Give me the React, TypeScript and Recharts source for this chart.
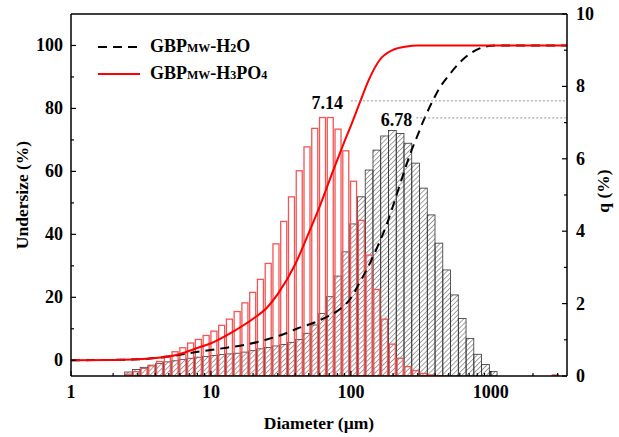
import React from "react";
import { ComposedChart, Bar, Line, XAxis, YAxis, ReferenceLine, Legend } from "recharts";

const FONT = '"Liberation Serif", "Times New Roman", serif';

// size classes (bin centres, µm) and frequency q (%) for both samples
const binDiameters = [
  2.581, 2.932, 3.331, 3.785, 4.3, 4.885, 5.55, 6.306, 7.165, 8.141,
  9.252, 10.51, 11.94, 13.57, 15.41, 17.51, 19.9, 22.61, 25.69, 29.19,
  33.16, 37.67, 42.8, 48.63, 55.25, 62.78, 71.31, 81.03, 92.07, 104.6,
  118.9, 135.0, 153.4, 174.3, 198.1, 225.0, 255.7, 290.5, 330.1, 375.0,
  426.1, 484.1, 550.0, 624.9, 710.0, 806.7, 916.6, 1041, 2891,
];
const qH2O = [
  0.11, 0.18, 0.24, 0.3, 0.35, 0.39, 0.42, 0.46, 0.49, 0.52,
  0.54, 0.57, 0.59, 0.61, 0.63, 0.66, 0.7, 0.75, 0.79, 0.83,
  0.87, 0.93, 1.01, 1.18, 1.41, 1.73, 2.19, 2.76, 3.43, 4.2,
  4.95, 5.69, 6.24, 6.63, 6.78, 6.7, 6.43, 5.88, 5.19, 4.45,
  3.67, 2.93, 2.24, 1.59, 1.04, 0.6, 0.32, 0.12, 0,
];
const qH3PO4 = [
  0.05, 0.12, 0.21, 0.28, 0.4, 0.55, 0.67, 0.78, 0.91, 1.01,
  1.12, 1.24, 1.4, 1.57, 1.78, 2.02, 2.31, 2.67, 3.11, 3.65,
  4.27, 4.95, 5.67, 6.33, 6.84, 7.14, 7.14, 6.82, 6.22, 5.38,
  4.3, 3.34, 2.39, 1.57, 0.88, 0.49, 0.26, 0.15, 0.07, 0.03,
  0.01, 0, 0, 0, 0, 0, 0, 0, 0.03,
];

// cumulative undersize curves (%)
const cumH2OSizes = [1, 3, 4, 5, 6.5, 9, 13, 18, 25, 34, 41, 55, 69, 85, 99, 115, 139, 155, 178, 205, 236, 265, 300, 325, 387, 434, 500, 625, 720, 845, 1000, 1200, 3500];
const cumH2O = [0, 0.3, 0.7, 1.2, 2.0, 3.0, 4.0, 5.0, 6.6, 8.5, 10.0, 12.0, 14.0, 16.5, 19.5, 24.5, 31.5, 36.1, 42.5, 50.5, 58.9, 65.5, 71.5, 75.4, 82.7, 86.8, 90.5, 95.4, 97.6, 99.2, 99.9, 100, 100];
const cumH3PO4Sizes = [1, 2, 3, 4, 5, 6, 8, 10, 14, 20, 25, 30, 40, 50, 60, 75, 90, 100, 115, 134, 160, 200, 250, 300, 3500];
const cumH3PO4 = [0, 0.1, 0.3, 0.7, 1.2, 2.0, 3.9, 5.4, 8.8, 13.2, 16.6, 21.0, 30.5, 40.5, 49, 60.5, 69.5, 74.5, 81.5, 89, 95.3, 98.6, 99.7, 100, 100];

const xTicks = [1, 2, 3, 4, 5, 6, 7, 8, 9, 10, 20, 30, 40, 50, 60, 70, 80, 90, 100, 200, 300, 400, 500, 600, 700, 800, 900, 1000, 2000, 3000];
const xMajor = [1, 10, 100, 1000];
const leftTicks = [0, 10, 20, 30, 40, 50, 60, 70, 80, 90, 100];
const leftMajor = [0, 20, 40, 60, 80, 100];
const rightTicks = [0, 1, 2, 3, 4, 5, 6, 7, 8, 9, 10];
const rightMajor = [0, 2, 4, 6, 8, 10];

const binRows = binDiameters.map((d, i) => ({ d, qH2O: qH2O[i], qH3PO4: qH3PO4[i] }));
const cumH2ORows = cumH2OSizes.map((d, i) => ({ d, v: cumH2O[i] }));
const cumH3PO4Rows = cumH3PO4Sizes.map((d, i) => ({ d, v: cumH3PO4[i] }));

const textStyle = { fontFamily: FONT, fontWeight: 700, fontSize: 18, fill: "#000" };

const XTick = (p: any) => {
  const major = xMajor.includes(p.payload.value);
  return (
    <g>
      <line x1={p.x} x2={p.x} y1={p.y} y2={p.y - (major ? 5 : 3)} stroke="#000" strokeWidth={1.2} />
      {major && (
        <text x={p.x} y={p.y + 21.5} textAnchor="middle" style={textStyle}>
          {p.payload.value}
        </text>
      )}
    </g>
  );
};

const LeftTick = (p: any) => {
  const major = leftMajor.includes(p.payload.value);
  return (
    <g>
      <line x1={p.x} x2={p.x + (major ? 5 : 3)} y1={p.y} y2={p.y} stroke="#000" strokeWidth={1.2} />
      {major && (
        <text x={p.x - 8} y={p.y + 6} textAnchor="end" style={textStyle}>
          {p.payload.value}
        </text>
      )}
    </g>
  );
};

const RightTick = (p: any) => {
  const major = rightMajor.includes(p.payload.value);
  return (
    <g>
      <line x1={p.x} x2={p.x - (major ? 5 : 3)} y1={p.y} y2={p.y} stroke="#000" strokeWidth={1.2} />
      {major && (
        <text x={p.x + 9} y={p.y + 6} textAnchor="start" style={textStyle}>
          {p.payload.value}
        </text>
      )}
    </g>
  );
};

const HatchBar = (p: any) => {
  if (!p.height || p.height <= 0 || !isFinite(p.x)) return null;
  const w = 7.7;
  const cx = p.x + p.width / 2;
  return <rect x={cx - w / 2} y={p.y} width={w} height={p.height} fill="url(#hatch)" stroke="#333" strokeWidth={0.8} />;
};

const RedBar = (p: any) => {
  if (!p.height || p.height <= 0 || !isFinite(p.x)) return null;
  const w = 6;
  const cx = p.x + p.width / 2;
  return <rect x={cx - w / 2} y={p.y} width={w} height={p.height} fill="none" stroke="#f25555" strokeWidth={1.3} />;
};

const Small = ({ children }: { children: React.ReactNode }) => (
  <span style={{ fontSize: 12 }}>{children}</span>
);

const LegendBox = () => (
  <div style={{ fontFamily: FONT, fontWeight: 700, fontSize: 18, color: "#000" }}>
    <div style={{ display: "flex", alignItems: "center", height: 27 }}>
      <svg width={52} height={10}>
        <line x1={0} x2={42} y1={5} y2={5} stroke="#000" strokeWidth={2} strokeDasharray="9 6" />
      </svg>
      <span>
        GBP<Small>MW</Small>-H<Small>2</Small>O
      </span>
    </div>
    <div style={{ display: "flex", alignItems: "center", height: 27 }}>
      <svg width={52} height={10}>
        <line x1={0} x2={42} y1={5} y2={5} stroke="#ff0000" strokeWidth={2} />
      </svg>
      <span>
        GBP<Small>MW</Small>-H<Small>3</Small>PO<Small>4</Small>
      </span>
    </div>
  </div>
);

export default function App() {
  return (
    <div style={{ position: "fixed", left: 0, top: 0, width: 619, height: 437, background: "#fff" }}>
      <ComposedChart width={619} height={437} data={binRows} margin={{ top: 9, right: 12, bottom: 31, left: 31 }}>
        <defs>
          <pattern id="hatch" patternUnits="userSpaceOnUse" width={3.5} height={3.5} patternTransform="rotate(45)">
            <line x1={0} y1={0} x2={0} y2={3.5} stroke="#333" strokeWidth={0.9} />
          </pattern>
        </defs>
        <XAxis
          xAxisId="main"
          dataKey="d"
          type="number"
          scale="log"
          domain={[1, 3500]}
          allowDataOverflow
          ticks={xTicks}
          interval={0}
          height={30}
          tickSize={0}
          tickMargin={0}
          tickLine={false}
          tick={<XTick />}
          axisLine={{ stroke: "#000", strokeWidth: 1.5 }}
          label={(p: any) => (
            <text x={p.viewBox.x + p.viewBox.width / 2} y={p.viewBox.y + 53} textAnchor="middle" style={{ ...textStyle, fontSize: 17.5 }}>
              Diameter (µm)
            </text>
          )}
        />
        <XAxis
          xAxisId="black"
          dataKey="d"
          type="number"
          scale="log"
          domain={[1, 3500]}
          allowDataOverflow
          orientation="top"
          height={5}
          tick={false}
          tickLine={false}
          axisLine={{ stroke: "#000", strokeWidth: 1.5 }}
        />
        <XAxis xAxisId="red" dataKey="d" type="number" scale="log" domain={[1, 3500]} allowDataOverflow hide />
        <YAxis
          yAxisId="left"
          type="number"
          domain={[-5, 110]}
          allowDataOverflow
          ticks={leftTicks}
          interval={0}
          width={40}
          tickSize={0}
          tickMargin={0}
          tickLine={false}
          tick={<LeftTick />}
          axisLine={{ stroke: "#000", strokeWidth: 1.5 }}
          label={(p: any) => {
            const x = p.viewBox.x + p.viewBox.width - 43;
            const y = p.viewBox.y + p.viewBox.height / 2;
            return (
              <text x={x} y={y} transform={`rotate(-90, ${x}, ${y})`} textAnchor="middle" style={{ ...textStyle, fontSize: 17.5 }}>
                Undersize (%)
              </text>
            );
          }}
        />
        <YAxis
          yAxisId="right"
          orientation="right"
          type="number"
          domain={[0, 10]}
          allowDataOverflow
          ticks={rightTicks}
          interval={0}
          width={40}
          tickSize={0}
          tickMargin={0}
          tickLine={false}
          tick={<RightTick />}
          axisLine={{ stroke: "#000", strokeWidth: 1.5 }}
          label={(p: any) => {
            const x = p.viewBox.x + 42;
            const y = p.viewBox.y + p.viewBox.height / 2 - 4;
            return (
              <text x={x} y={y} transform={`rotate(-90, ${x}, ${y})`} textAnchor="middle" style={{ ...textStyle, fontSize: 17.5 }}>
                q (%)
              </text>
            );
          }}
        />
        <Bar xAxisId="black" yAxisId="right" dataKey="qH2O" shape={HatchBar} isAnimationActive={false} />
        <Bar xAxisId="red" yAxisId="right" dataKey="qH3PO4" shape={RedBar} isAnimationActive={false} />
        <Line
          xAxisId="main"
          yAxisId="left"
          data={cumH2ORows}
          dataKey="v"
          type="monotone"
          stroke="#000"
          strokeWidth={2}
          strokeDasharray="9 6"
          dot={false}
          activeDot={false}
          isAnimationActive={false}
        />
        <Line
          xAxisId="main"
          yAxisId="left"
          data={cumH3PO4Rows}
          dataKey="v"
          type="monotone"
          stroke="#ff0000"
          strokeWidth={2}
          dot={false}
          activeDot={false}
          isAnimationActive={false}
        />
        <ReferenceLine
          xAxisId="main"
          yAxisId="right"
          segment={[{ x: 100, y: 7.6 }, { x: 3500, y: 7.6 }]}
          stroke="#777"
          strokeWidth={0.8}
          strokeDasharray="2 2"
          label={(p: any) => (
            <text x={p.viewBox.x - 8} y={p.viewBox.y + 8} textAnchor="end" style={textStyle}>
              7.14
            </text>
          )}
        />
        <ReferenceLine
          xAxisId="main"
          yAxisId="right"
          segment={[{ x: 293, y: 7.13 }, { x: 3500, y: 7.13 }]}
          stroke="#777"
          strokeWidth={0.8}
          strokeDasharray="2 2"
          label={(p: any) => (
            <text x={p.viewBox.x - 4} y={p.viewBox.y + 8} textAnchor="end" style={textStyle}>
              6.78
            </text>
          )}
        />
        <Legend
          layout="vertical"
          align="center"
          verticalAlign="middle"
          content={() => <LegendBox />}
          wrapperStyle={{ left: 98, top: 33, width: 260 }}
        />
      </ComposedChart>
    </div>
  );
}
